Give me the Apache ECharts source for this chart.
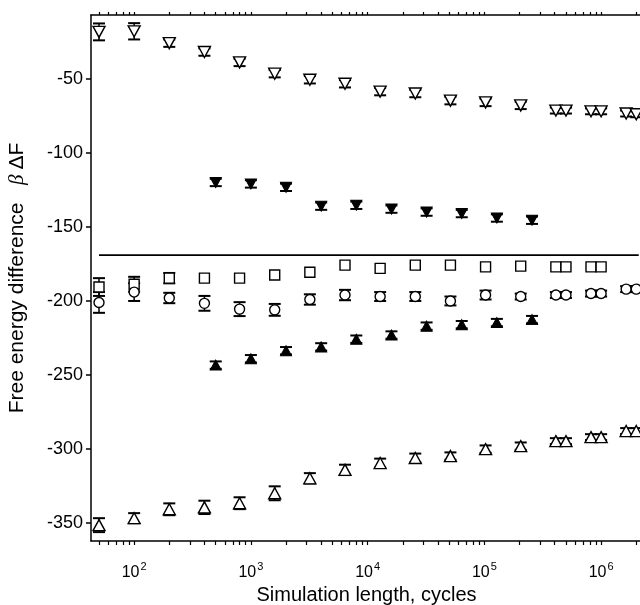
<!DOCTYPE html>
<html><head><meta charset="utf-8">
<script src="https://cdn.jsdelivr.net/npm/echarts@6/dist/echarts.min.js"></script>
<style>html,body{margin:0;padding:0;background:#fff}#c{width:640px;height:605px}</style>
</head><body><div id="c"></div>
<script>
// ---- data ----
const cycles = [50,100,200,400,800,1600,3200,6400,12800,25600,51200,102400,204800,409600,500000,819200,1000000,1638400,2000000];
const openDownY   = [-18.4,-18,-26,-32,-39,-46.6,-50.7,-53.4,-58.7,-60,-64.8,-66,-68,-71.5,-71.5,-72,-72,-73.5,-74];
const openDownErr = [5.7,5.5,2.5,2.5,2.5,2.5,2.5,2.5,2.5,2.5,2.5,2.5,2.5,2,2,2,2,2,2];
const squareY     = [-190.6,-188.7,-184.6,-184.6,-184.6,-182.5,-180.6,-175.8,-178,-175.8,-175.8,-177,-176.5,-177,-177,-177,-177];
const squareErr   = [6,5,3.5,0,0,0,0,0,0,0,0,0,0,0,0,0,0];
const circleY     = [-201,-194,-198,-201.6,-205.5,-206,-199,-196,-197,-197,-200,-196,-197,-196,-196,-195,-195,-192,-192];
const circleErr   = [7,6,3.5,5,4.7,4,3.5,3.5,3,3,3,3,2,2,2,2,2,2,2];
const openUpY     = [-351.3,-346.6,-340.6,-339.3,-336.5,-329.8,-319.7,-314,-309.4,-306,-304.7,-300,-298,-294.6,-294.6,-291.9,-291.9,-287.8,-287.8];
const openUpErr   = [4.7,3.4,4,4.5,4,4.7,3.5,3.5,3,3,2.5,2.5,2.5,2,2,2,2,2,2];
const filledCycles = [500,1000,2000,4000,8000,16000,32000,64000,128000,256000];
const filledDownY  = [-120,-121,-123.3,-136,-135.4,-138,-140,-141,-144,-145.5];
const filledDownErr= [2.5,2.5,2.5,2.5,2.5,2.5,2.5,2.5,2.5,2.5];
const filledUpY    = [-243.3,-239,-233.6,-231,-225.8,-223,-217,-216,-214.6,-212.6];
const filledUpErr  = [2.5,2.5,2.5,2.5,2.5,2.5,2.5,2.5,2.5,2.5];
const refLineX = [50, 2100000];
const refLineY = -169;
const xMajorTicks = [100,1000,10000,100000,1000000];
const yTicks = [-50,-100,-150,-200,-250,-300,-350];
const xMin = 42.7, xMax = 2240000, yMin = -362, yMax = -7;

// ---- build ----
const minorTicks = [];
[10,100,1000,10000,100000,1000000].forEach(d=>{for(let k=1;k<10;k++){const v=d*k; if(v>=xMin&&v<=xMax) minorTicks.push(v);}});

function pts(xs, ys){ return ys.map((y,i)=>[xs[i], y]); }
function errs(xs, ys, es){ return ys.map((y,i)=>[xs[i], y-es[i], y+es[i]]).filter((d,i)=>es[i]>0); }

function errRender(params, api){
  const x = api.value(0), lo = api.value(1), hi = api.value(2);
  const p1 = api.coord([x, hi]), p2 = api.coord([x, lo]);
  const w = 6;
  const st = {stroke:'#000', lineWidth:2};
  return {type:'group', children:[
    {type:'line', shape:{x1:p1[0],y1:p1[1],x2:p2[0],y2:p2[1]}, style:{stroke:'#000',lineWidth:1.5}},
    {type:'line', shape:{x1:p1[0]-w,y1:p1[1],x2:p1[0]+w,y2:p1[1]}, style:st},
    {type:'line', shape:{x1:p2[0]-w,y1:p2[1],x2:p2[0]+w,y2:p2[1]}, style:st}
  ]};
}
function errSeries(data){
  return {type:'custom', renderItem: errRender, data, encode:{x:0,y:[1,2]}, z:2, silent:true, clip:false};
}
const openStyle = {color:'#fff', borderColor:'#000', borderWidth:1.4, opacity:1};
const fillStyle = {color:'#000', borderColor:'#000', borderWidth:1, opacity:1};
function scatter(data, symbol, size, style, rot){
  return {type:'scatter', data, symbol, symbolSize:size, symbolRotate:rot||0, itemStyle:style, z:3, silent:true};
}

const F = 'Liberation Sans, Arial, sans-serif';
const axisBlack = {show:true, lineStyle:{color:'#000', width:1.5}};
const option = {
  animation:false,
  backgroundColor:'#fff',
  grid:{left:91, top:15, right:-2, bottom:64, containLabel:false, outerBoundsMode:'none'},
  xAxis:[{
    type:'log', logBase:10, min:xMin, max:xMax, position:'bottom',
    axisLine:axisBlack,
    axisTick:{show:true, customValues:minorTicks, length:4, lineStyle:{color:'#000',width:1.2}},
    axisLabel:{customValues:xMajorTicks, margin:20, color:'#000', fontFamily:F, fontSize:16,
      formatter:v=>'10{s|'+Math.round(Math.log10(v))+'}',
      rich:{s:{fontSize:11, verticalAlign:'top', padding:[0,0,12,1], fontFamily:F, color:'#000'}}},
    splitLine:{show:false},
    name:'Simulation length, cycles', nameLocation:'middle', nameGap:41,
    nameTextStyle:{color:'#000', fontSize:20, fontFamily:F}
  },{
    type:'log', logBase:10, min:xMin, max:xMax, position:'top',
    axisLine:axisBlack,
    axisTick:{show:true, customValues:minorTicks, length:3, lineStyle:{color:'#000',width:1.2}},
    axisLabel:{show:false}, splitLine:{show:false}
  }],
  yAxis:{
    type:'value', min:yMin, max:yMax,
    axisLine:axisBlack,
    axisTick:{show:true, customValues:yTicks, length:5, lineStyle:{color:'#000',width:1.5}},
    axisLabel:{customValues:yTicks, margin:8, color:'#000', fontSize:18, fontFamily:F},
    splitLine:{show:false},
    name:'Free energy difference   {b|β}ΔF', nameLocation:'middle', nameGap:63,
    nameTextStyle:{color:'#000', fontSize:21, fontFamily:F,
      rich:{b:{fontStyle:'italic', fontSize:21, fontFamily:'Liberation Serif, Times New Roman, serif', color:'#000', padding:[0,5,0,0]}}}
  },
  series:[
    {type:'line', data:refLineX.map(x=>[x,refLineY]), symbol:'none', lineStyle:{color:'#000', width:1.8}, z:1, silent:true},
    errSeries(errs(cycles, openDownY, openDownErr)),
    errSeries(errs(cycles, squareY, squareErr)),
    errSeries(errs(cycles, circleY, circleErr)),
    errSeries(errs(cycles, openUpY, openUpErr)),
    errSeries(errs(filledCycles, filledDownY, filledDownErr)),
    errSeries(errs(filledCycles, filledUpY, filledUpErr)),
    scatter(pts(cycles, openDownY), 'triangle', [12,11], openStyle, 180),
    scatter(pts(cycles, squareY), 'rect', 10, openStyle),
    scatter(pts(cycles, circleY), 'circle', 10, openStyle),
    scatter(pts(cycles, openUpY), 'triangle', [12,11], openStyle),
    scatter(pts(filledCycles, filledDownY), 'triangle', [11,10], fillStyle, 180),
    scatter(pts(filledCycles, filledUpY), 'triangle', [11,10], fillStyle)
  ]
};
const chart = echarts.init(document.getElementById('c'), null, {renderer:'canvas'});
chart.setOption(option);
</script>
</body></html>
